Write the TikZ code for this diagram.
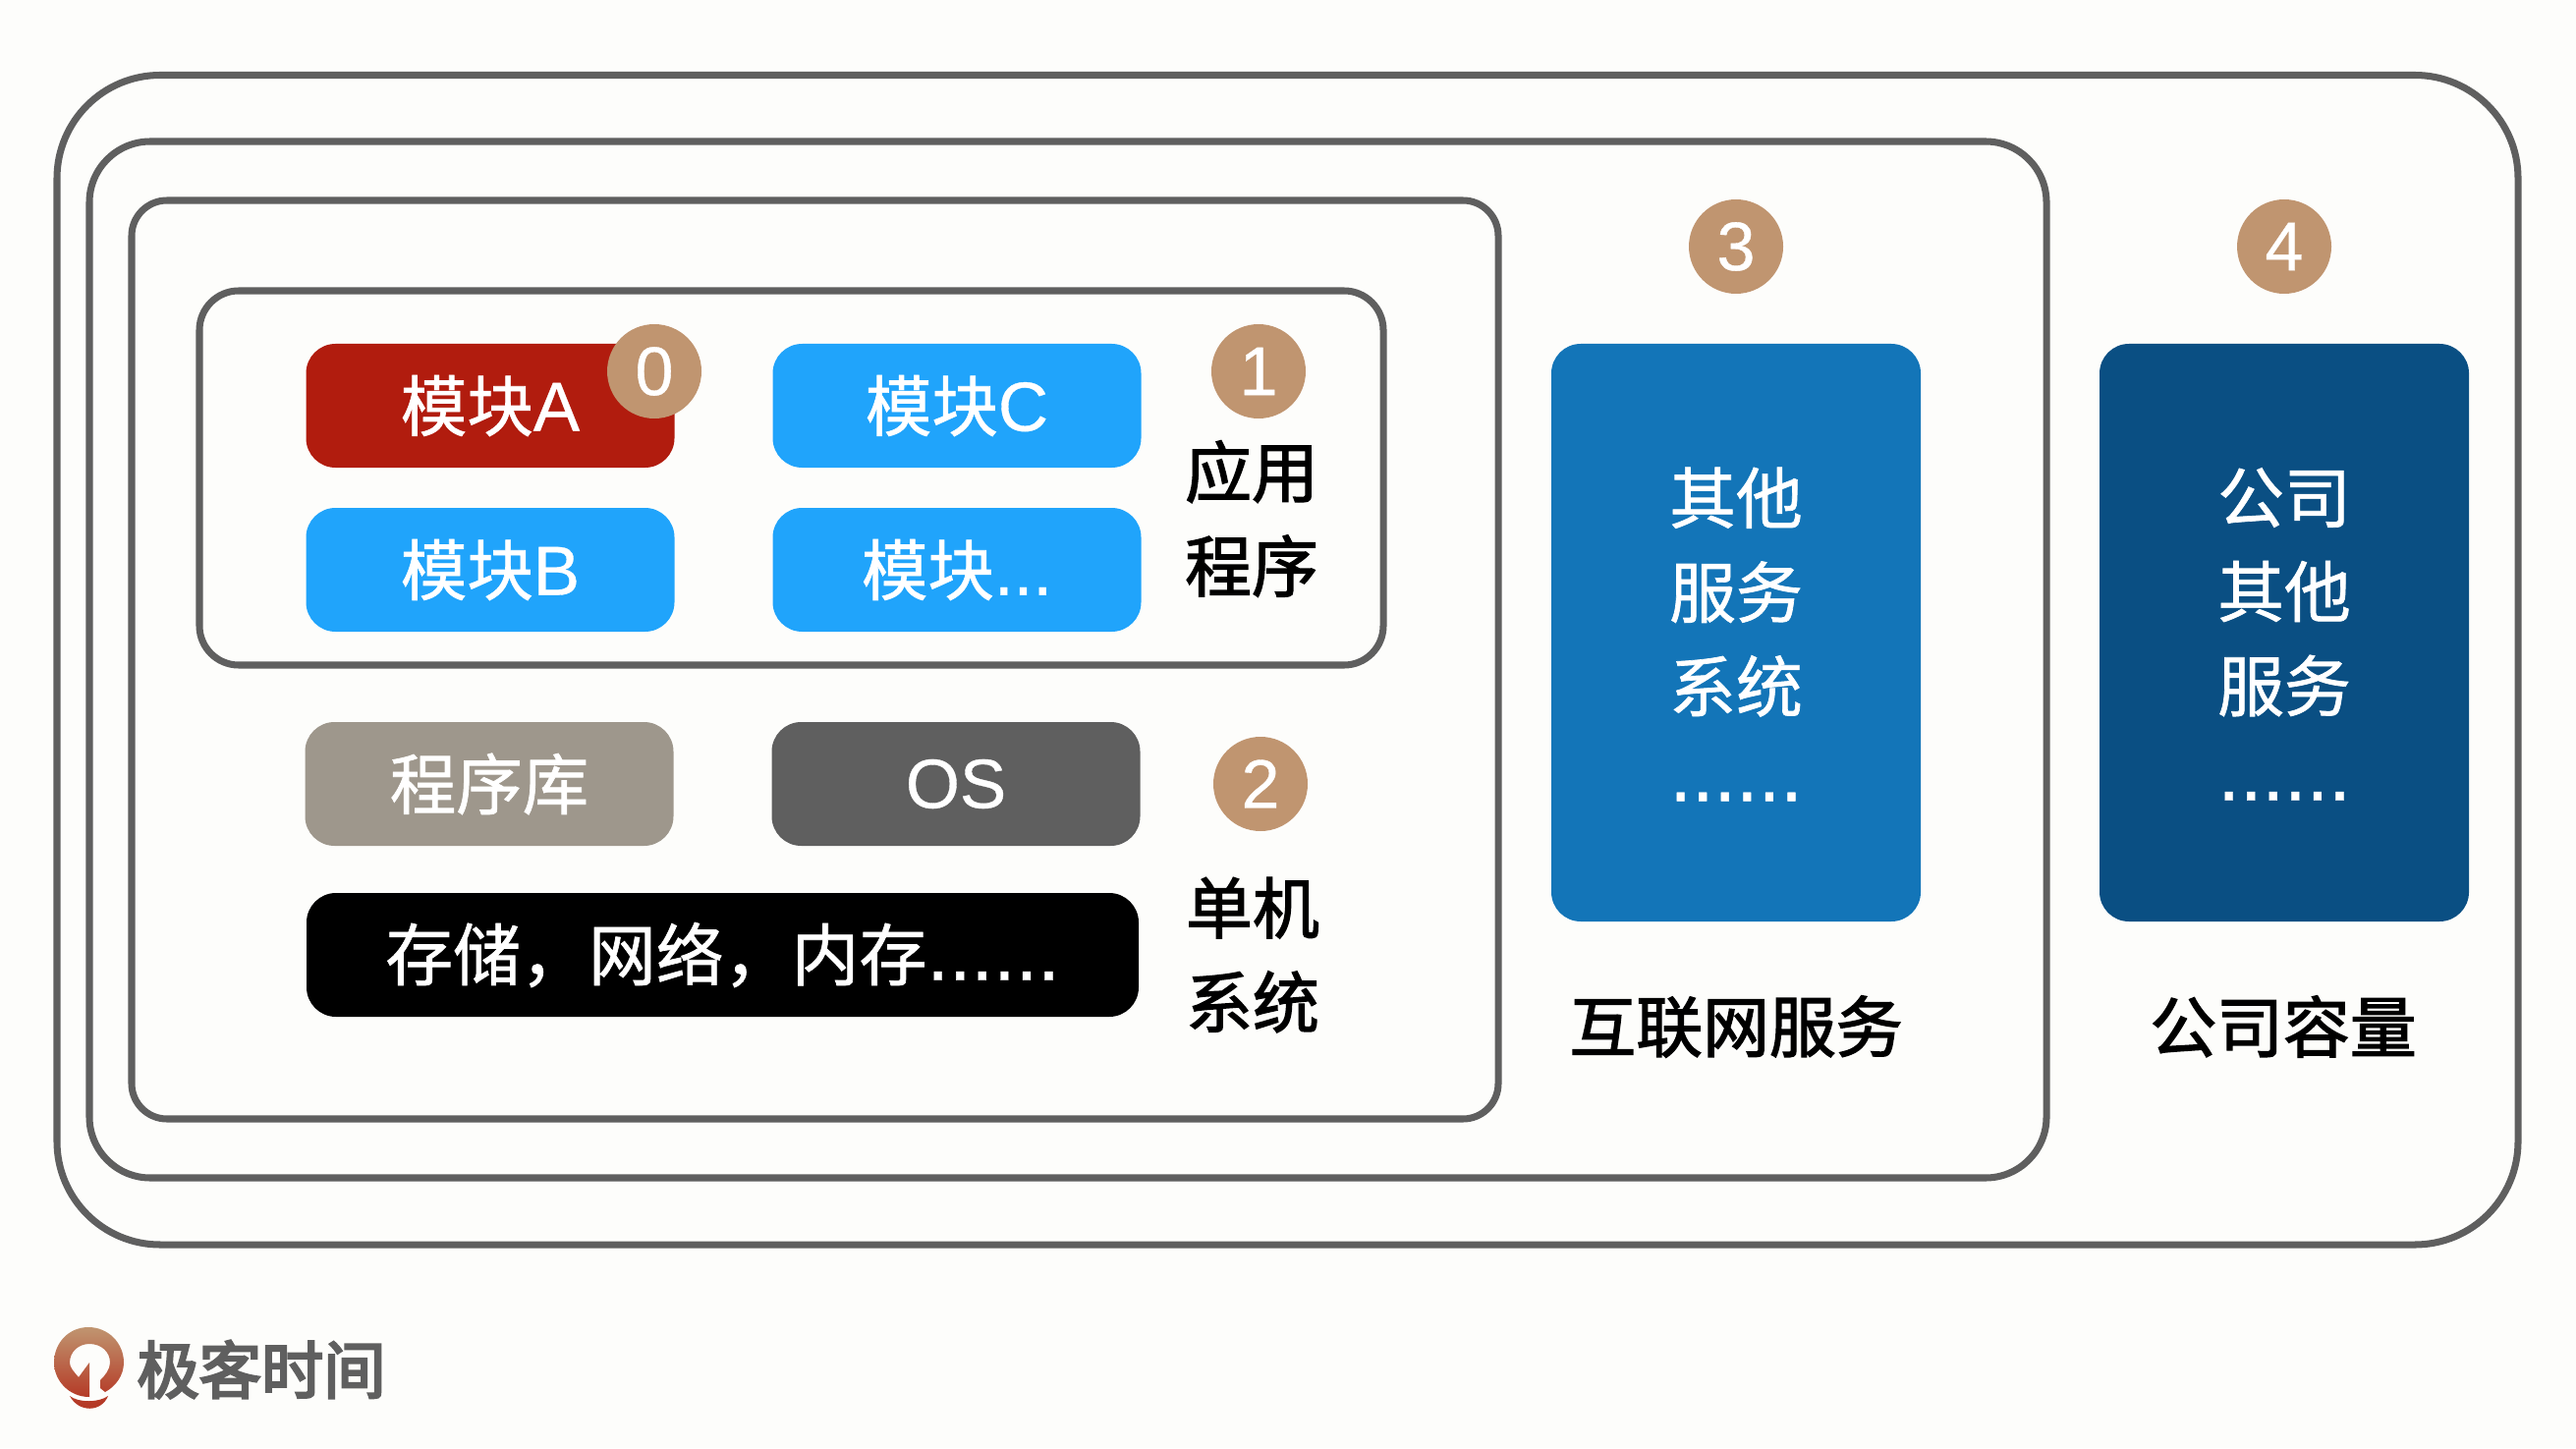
\documentclass[tikz,border=0pt]{standalone}
\usepackage{fontspec}
\setmainfont[Scale=1.05,FakeBold=0.5]{Liberation Sans}
\newfontfamily\cjk[FakeBold=1]{Noto Sans CJK SC}
\newfontfamily\cjkb[FakeBold=2]{Noto Sans CJK SC}
\newfontfamily\cjklogo[FakeBold=4]{Noto Sans CJK SC}
\usetikzlibrary{positioning}
\definecolor{geekBg}{HTML}{FDFDFB}
\definecolor{geekLine}{HTML}{5F5F5F}
\definecolor{geekTan}{HTML}{C09570}
\definecolor{geekRed}{HTML}{B11C0E}
\definecolor{geekBlue}{HTML}{20A4FB}
\definecolor{geekMid}{HTML}{1375B8}
\definecolor{geekDark}{HTML}{0A4F83}
\definecolor{geekLib}{HTML}{9E978C}
\newcommand{\bigdots}{{\fontsize{22}{27.3}\selectfont ......}}
\tikzset{
    frame/.style={draw=geekLine, line width=2pt},
    block/.style={rounded corners=0.3cm, minimum width=3.75cm, minimum height=1.26cm, text=white, inner sep=0pt, font=\fontsize{19.2}{23}\selectfont},
    column/.style={rounded corners=0.3cm, minimum width=3.76cm, minimum height=5.88cm, inner sep=0pt},
    coltext/.style={text=white, align=center, inner sep=0pt, font=\fontsize{19.3}{27.3}\selectfont},
    badge/.style={circle, fill=geekTan, text=white, minimum size=0.96cm, inner sep=0pt, font=\fontsize{19}{24}\selectfont},
    tag/.style={align=center, inner sep=0pt, font=\fontsize{19.3}{27.3}\selectfont},
}
\begin{document}
\begin{tikzpicture}
    \useasboundingbox[fill=geekBg] (0,0) rectangle (26.22,14.74);

    % Frames
    \draw[frame, rounded corners=1.05cm] (0.58,13.975) rectangle (25.63,2.07);
    \draw[frame, rounded corners=0.62cm] (0.91,13.30) rectangle (20.83,2.75);
    \draw[frame, rounded corners=0.36cm] (1.34,12.70) rectangle (15.25,3.35);
    \draw[frame, rounded corners=0.40cm] (2.03,11.78) rectangle (14.08,7.97);

    % Application modules
    \node[block, fill=geekRed] (modA) at (4.99,10.61) {{\cjk 模块}A};
    \node[block, fill=geekBlue] (modC) at (9.74,10.61) {{\cjk 模块}C};
    \node[block, fill=geekBlue] (modB) at (4.99,8.94) {{\cjk 模块}B};
    \node[block, fill=geekBlue] (modD) at (9.74,8.94) {{\cjk 模块}...};

    % Single machine
    \node[block, fill=geekLib] (lib) at (4.98,6.76) {\cjk 程序库};
    \node[block, fill=geekLine] (os) at (9.73,6.76) {OS};
    \node[block, fill=black, minimum width=8.47cm, font=\fontsize{19.6}{23}\selectfont] (infra) at (7.355,5.02) {{\cjk 存储，网络，内存}\bigdots};

    % Columns
    \node[column, fill=geekMid] (other) at (17.67,8.30) {};
    \node[coltext] (otherText) at (17.67,8.26) {{\cjk 其他}\\{\cjk 服务}\\{\cjk 系统}\\\raisebox{0.05cm}{\bigdots}};
    \node[column, fill=geekDark] (company) at (23.25,8.30) {};
    \node[coltext] (companyText) at (23.25,8.26) {{\cjk 公司}\\{\cjk 其他}\\{\cjk 服务}\\\raisebox{0.05cm}{\bigdots}};

    % Badges
    \node[badge] (b0) at (6.66,10.96) {0};
    \node[badge] (b1) at (12.81,10.96) {1};
    \node[badge] (b2) at (12.83,6.76) {2};
    \node[badge] (b3) at (17.67,12.23) {3};
    \node[badge] (b4) at (23.25,12.23) {4};

    % Labels
    \node[tag] (appTag) at (12.74,9.46) {{\cjkb 应用}\\{\cjkb 程序}};
    \node[tag] (sysTag) at (12.75,5.02) {{\cjkb 单机}\\{\cjkb 系统}};
    \node[tag] (netTag) at (17.67,4.29) {\cjkb 互联网服务};
    \node[tag] (capTag) at (23.24,4.29) {\cjkb 公司容量};

    % Logo
    \path[top color=geekTan, bottom color=geekRed!75!geekTan]
        (0.90,1.23) .. controls (0.70,1.23) and (0.55,1.07) .. (0.55,0.87)
        .. controls (0.55,0.69) and (0.70,0.52) .. (0.91,0.52)
        -- (0.91,0.87) -- (0.80,0.72)
        .. controls (0.75,0.78) and (0.71,0.82) .. (0.71,0.87)
        .. controls (0.71,0.98) and (0.80,1.06) .. (0.91,1.06)
        .. controls (1.03,1.06) and (1.12,0.98) .. (1.12,0.87)
        .. controls (1.12,0.80) and (1.07,0.74) .. (1.02,0.69)
        -- (1.02,0.61) -- (1.07,0.57)
        .. controls (1.18,0.63) and (1.26,0.74) .. (1.26,0.87)
        .. controls (1.26,1.07) and (1.10,1.23) .. (0.90,1.23) -- cycle;
    \path[fill=geekRed!75!geekTan]
        (0.71,0.53) .. controls (0.80,0.46) and (1.00,0.46) .. (1.10,0.53)
        .. controls (1.03,0.36) and (0.80,0.36) .. (0.71,0.53) -- cycle;
    \node[text=geekLine, inner sep=0pt, font=\fontsize{18}{22}\selectfont] (logoText) at (2.66,0.80) {\cjklogo 极客时间};
\end{tikzpicture}
\end{document}
